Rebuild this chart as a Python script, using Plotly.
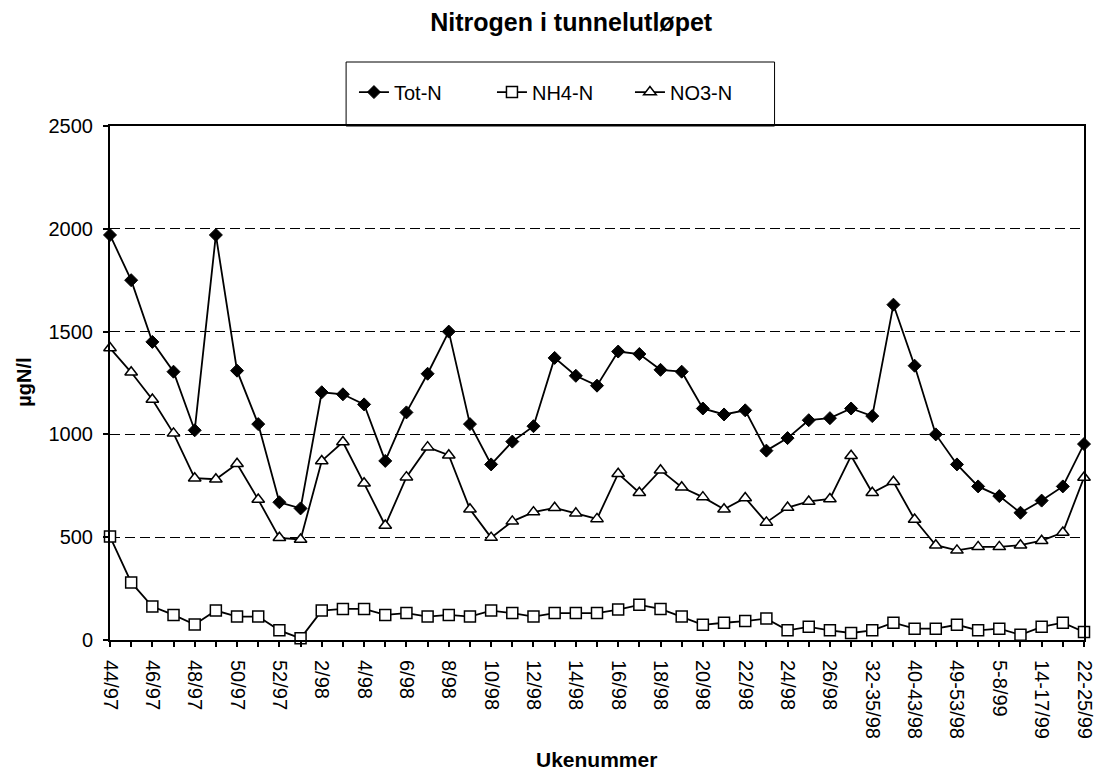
import plotly.graph_objects as go

# ---- data ----
weeks = [
    "44/97", "45/97", "46/97", "47/97", "48/97", "49/97", "50/97", "51/97", "52/97",
    "1/98", "2/98", "3/98", "4/98", "5/98", "6/98", "7/98", "8/98", "9/98", "10/98",
    "11/98", "12/98", "13/98", "14/98", "15/98", "16/98", "17/98", "18/98", "19/98",
    "20/98", "21/98", "22/98", "23/98", "24/98", "25/98", "26/98", "27-31/98",
    "32-35/98", "36-39/98", "40-43/98", "44-48/98", "49-53/98", "1-4/99", "5-8/99",
    "9-13/99", "14-17/99", "18-21/99", "22-25/99",
]

tot_n = [1970, 1750, 1450, 1305, 1020, 1970, 1310, 1050, 670, 640,
         1205, 1195, 1146, 871, 1107, 1295, 1500, 1050, 854, 965,
         1040, 1372, 1285, 1237, 1403, 1391, 1314, 1305, 1126, 1097,
         1117, 921, 982, 1069, 1079, 1126, 1089, 1631, 1334, 1000,
         854, 747, 700, 619, 678, 747, 953]

nh4_n = [503, 280, 163, 122, 75, 143, 114, 114, 47, 8,
         143, 151, 151, 122, 131, 114, 122, 114, 143, 131,
         114, 131, 131, 131, 148, 171, 151, 114, 74, 84,
         92, 104, 47, 64, 47, 34, 47, 84, 55, 55,
         74, 47, 55, 25, 64, 84, 39]

no3_n = [1420, 1302, 1170, 1005, 787, 782, 857, 683, 497, 489,
         871, 963, 762, 557, 792, 938, 899, 636, 498, 577,
         622, 643, 616, 589, 809, 716, 826, 743, 695, 636,
         691, 572, 644, 674, 686, 896, 716, 770, 586, 461,
         436, 453, 453, 461, 483, 523, 790]

y_ticks = [0, 500, 1000, 1500, 2000, 2500]

# ---- figure ----
FONT = "Liberation Sans, Arial, sans-serif"
idx = list(range(len(weeks)))
# only every other week gets a label, but every week gets a tick
ticktext = [w if i % 2 == 0 else "" for i, w in enumerate(weeks)]

fig = go.Figure()

series = [
    ("Tot-N", tot_n, dict(symbol="diamond", size=10, color="black",
                          line=dict(color="black", width=1))),
    ("NH4-N", nh4_n, dict(symbol="square", size=11, color="white",
                          line=dict(color="black", width=1.5))),
    ("NO3-N", no3_n, dict(symbol="triangle-up", size=11, color="white",
                          line=dict(color="black", width=1.5))),
]

for name, vals, marker in series:
    fig.add_trace(go.Scatter(
        x=idx, y=vals, name=name,
        mode="lines+markers",
        line=dict(color="black", width=1.8),
        marker=marker,
        cliponaxis=False,
    ))

# legend frame sitting on top of the plot border
fig.add_shape(type="rect", xref="paper", yref="paper",
              x0=0.2424, x1=0.6823, y0=1.0, y1=1.1245,
              line=dict(color="black", width=1), fillcolor="white", layer="below")

fig.update_layout(
    width=1100, height=767,
    margin=dict(l=102, r=16, t=118, b=135),
    paper_bgcolor="white", plot_bgcolor="white",
    font=dict(family=FONT, size=20, color="black"),
    title=dict(text="<b>Nitrogen i tunnelutløpet</b>", x=0.512, xanchor="center",
               y=1 - 14 / 767, yanchor="middle", font=dict(size=25)),
    showlegend=True,
    legend=dict(orientation="h", x=0.463, xanchor="center", y=1.066, yanchor="middle",
                bgcolor="rgba(0,0,0,0)", font=dict(size=20), traceorder="normal",
                entrywidth=93, entrywidthmode="pixels"),
    xaxis=dict(
        range=[0, len(weeks) - 1], tickmode="array", tickvals=idx, ticktext=ticktext,
        tickangle=90, ticks="outside", ticklen=5, tickcolor="black", tickwidth=1.5,
        ticklabelstandoff=9,
        showline=True, linecolor="black", linewidth=2, mirror=True,
        showgrid=False, zeroline=False, tickfont=dict(size=20),
    ),
    yaxis=dict(
        range=[0, 2500], tickmode="array", tickvals=y_ticks,
        ticks="outside", ticklen=5, tickcolor="black", tickwidth=1.5,
        ticklabelstandoff=6,
        showline=True, linecolor="black", linewidth=2, mirror=True,
        showgrid=True, gridcolor="black", griddash="10px,5px", gridwidth=1,
        zeroline=False, tickfont=dict(size=20),
    ),
    annotations=[
        dict(text="<b>Ukenummer</b>", xref="paper", yref="paper",
             x=0.499, y=-0.232, xanchor="center", yanchor="middle",
             showarrow=False, font=dict(size=21)),
        dict(text="<b>µgN/l</b>", xref="paper", yref="paper",
             x=-0.0886, y=0.502, xanchor="center", yanchor="middle",
             textangle=-90, showarrow=False, font=dict(size=20)),
    ],
)

fig.write_html("out.html")
